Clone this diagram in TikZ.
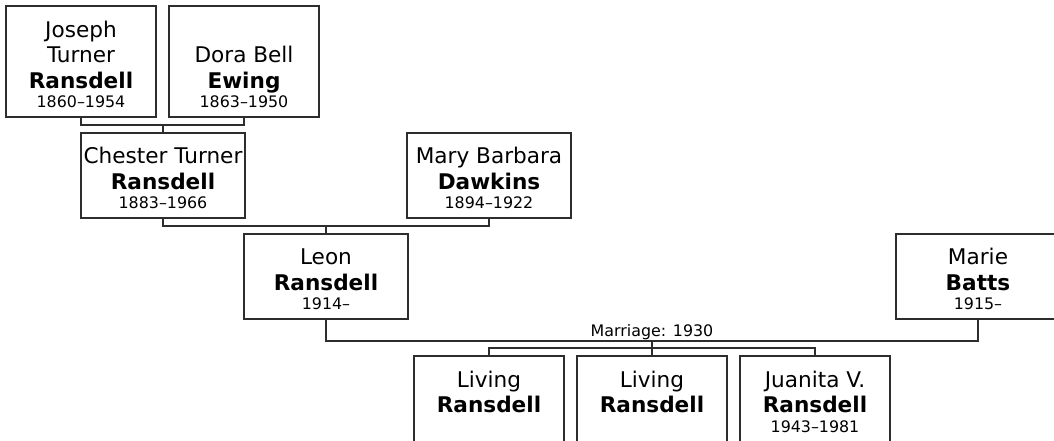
\documentclass[tikz,border=0pt]{standalone}
\usepackage{fontspec}
\setmainfont{DejaVu Sans}
\usepackage{xcolor}
\usetikzlibrary{positioning}
\definecolor{boxline}{RGB}{45,45,45}
\newcommand{\given}[1]{\rule{0pt}{16.5pt}#1}
\newcommand{\famname}[1]{\textbf{#1}}
\newcommand{\lifespan}[1]{{\fontsize{11.9}{14}\selectfont #1}}

\begin{document}
\begin{tikzpicture}[x=0.75pt,y=-0.75pt,
    font=\fontsize{16.2}{19.1}\selectfont,
    person/.style={draw=boxline,line width=0.9pt,inner sep=0pt,align=center,
                   minimum width=123pt,minimum height=63.75pt},
    narrow/.style={minimum width=112.5pt},
    tall/.style={minimum height=83.25pt},
    link/.style={draw=boxline,line width=0.9pt},
    wedlabel/.style={inner sep=0.6pt,font=\fontsize{11.9}{14}\selectfont}]
  \useasboundingbox (0,0) rectangle (1054,441);

  % grandparents
  \node[person,narrow,tall] (joseph) at (81,61.5)
    {\given{Joseph}\\Turner\\\famname{Ransdell}\\[-4.5pt]\lifespan{1860--1954}};
  \node[person,narrow,tall] (dora) at (244,61.5)
    {\given{}\\Dora Bell\\\famname{Ewing}\\[-4.5pt]\lifespan{1863--1950}};

  % parents
  \node[person] (chester) at (163,175.5)
    {\given{Chester Turner}\\\famname{Ransdell}\\[-4.5pt]\lifespan{1883--1966}};
  \node[person] (mary) at (489,175.5)
    {\given{Mary Barbara}\\\famname{Dawkins}\\[-4.5pt]\lifespan{1894--1922}};

  % couple
  \node[person] (leon) at (326,276.5)
    {\given{Leon}\\\famname{Ransdell}\\[-4.5pt]\lifespan{1914--}};
  \node[person] (marie) at (978,276.5)
    {\given{Marie}\\\famname{Batts}\\[-4.5pt]\lifespan{1915--}};

  % children
  \node[person,narrow,minimum height=64.5pt] (living1) at (489,399)
    {\given{Living}\\\famname{Ransdell}\\[-4.5pt]\lifespan{\vphantom{0}}};
  \node[person,narrow,minimum height=64.5pt] (living2) at (652,399)
    {\given{Living}\\\famname{Ransdell}\\[-4.5pt]\lifespan{\vphantom{0}}};
  \node[person,narrow,minimum height=64.5pt] (juanita) at (815,399)
    {\given{Juanita V.}\\\famname{Ransdell}\\[-4.5pt]\lifespan{1943--1981}};

  \coordinate (jdbar) at (163,125);
  \coordinate (cmbar) at (326,226);
  \coordinate (wed) at (652,341);
  \coordinate (kidbar) at (652,348);

  \draw[link] (joseph.south) |- (jdbar) -| (dora.south);
  \draw[link] (jdbar) -- (chester.north);
  \draw[link] (chester.south) |- (cmbar) -| (mary.south);
  \draw[link] (cmbar) -- (leon.north);
  \draw[link] (leon.south) |- (wed) -| (marie.south);
  \node[wedlabel,above] (wedding) at (wed) {Marriage: 1930};
  \draw[link] (wed) -- (living2.north);
  \draw[link] (living1.north) |- (kidbar) -| (juanita.north);
\end{tikzpicture}
\end{document}
